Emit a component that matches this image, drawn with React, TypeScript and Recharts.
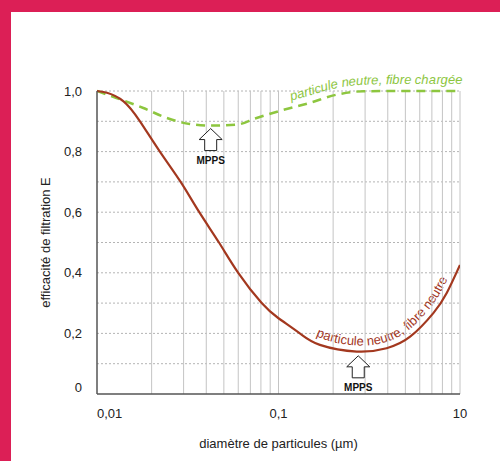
import React from 'react';
import * as R from 'recharts';
import {
  LineChart,
  Line,
  XAxis,
  YAxis,
  CartesianGrid,
  ReferenceDot,
  ReferenceLine,
  Customized,
  Label
} from 'recharts';

const FONT = '"Liberation Sans", Arial, Helvetica, sans-serif';
const PINK = '#DC1F56';
const BROWN = '#A3381F';
const GREEN = '#8DC63F';

const X_MIN = 0.01;
const X_MAX = 1;

// particule neutre, fibre neutre
const neutralDiameter = [0.01, 0.01135, 0.014, 0.01725, 0.0222, 0.0289, 0.0366, 0.047, 0.06, 0.0808, 0.1, 0.131, 0.169, 0.27, 0.394, 0.531, 0.713, 0.845, 1];
const neutralEfficiency = [1, 0.994, 0.966, 0.9, 0.8, 0.7, 0.6, 0.5, 0.4, 0.3, 0.25, 0.2, 0.162, 0.14, 0.151, 0.189, 0.267, 0.333, 0.426];

// particule neutre, fibre chargée
const chargedDiameter = [0.01, 0.0128, 0.018, 0.0242, 0.0325, 0.0423, 0.0589, 0.075, 0.1, 0.149, 0.209, 0.293, 0.5, 1];
const chargedEfficiency = [1, 0.977, 0.944, 0.911, 0.891, 0.886, 0.889, 0.91, 0.933, 0.961, 0.988, 0.999, 1, 1];

// MPPS arrows (diamètre, efficacité at arrow tip)
const mppsDiameter = [0.0423, 0.275];
const mppsEfficiency = [0.876, 0.126];

const xTicks = [0.01, 0.1, 1];
const xTickLabels = ['0,01', '0,1', '10'];
const yTicks = [0, 0.2, 0.4, 0.6, 0.8, 1];
const yTickLabels = ['0', '0,2', '0,4', '0,6', '0,8', '1,0'];
const xGrid = [0.02, 0.03, 0.04, 0.05, 0.06, 0.07, 0.08, 0.09, 0.1, 0.2, 0.3, 0.4, 0.5, 0.6, 0.7, 0.8, 0.9, 1];
const yGrid = [0.1, 0.2, 0.3, 0.4, 0.5, 0.6, 0.7, 0.8, 0.9, 1];

const neutralLabel = 'particule neutre, fibre neutre';
const chargedLabel = 'particule neutre, fibre chargée';
const xTitle = 'diamètre de particules (µm)';
const yTitle = 'efficacité de filtration E';

const neutralData = neutralDiameter.map((d, i) => ({ d, e: neutralEfficiency[i] }));
const chargedData = chargedDiameter.map((d, i) => ({ d, e: chargedEfficiency[i] }));

const MARGIN = { top: 91, right: 40, bottom: 17, left: 30 };
const Y_AXIS_W = 67;
const X_AXIS_H = 50;
const W = 500;
const H = 461;

const usePlot: any = (R as any).usePlotArea;

type Pt = [number, number];

function smoothPath(pts: Pt[]) {
  let s = `M${pts[0][0]},${pts[0][1]}`;
  for (let i = 1; i < pts.length - 1; i++) {
    const mx = (pts[i][0] + pts[i + 1][0]) / 2;
    const my = (pts[i][1] + pts[i + 1][1]) / 2;
    s += ` Q${pts[i][0]},${pts[i][1]} ${mx},${my}`;
  }
  const l = pts[pts.length - 1];
  return s + ` L${l[0]},${l[1]}`;
}

function CurveLabels() {
  const area = usePlot ? usePlot() : null;
  const x0 = area && area.width ? area.x : MARGIN.left + Y_AXIS_W;
  const y0 = area && area.height ? area.y : MARGIN.top;
  const w = area && area.width ? area.width : W - MARGIN.left - MARGIN.right - Y_AXIS_W;
  const h = area && area.height ? area.height : H - MARGIN.top - MARGIN.bottom - X_AXIS_H;
  const toPx = (d: number, e: number): Pt => [
    x0 + (w * Math.log10(d / X_MIN)) / Math.log10(X_MAX / X_MIN),
    y0 + h * (1 - e)
  ];
  const offsetPts = (ds: number[], es: number[], from: number, off: number, extend: number) => {
    const pts = ds.map((d, i) => toPx(d, es[i])).filter((_, i) => ds[i] >= from);
    const out: Pt[] = pts.map((p, i) => {
      const a = pts[Math.max(0, i - 1)];
      const b = pts[Math.min(pts.length - 1, i + 1)];
      const tx = b[0] - a[0];
      const ty = b[1] - a[1];
      const len = Math.hypot(tx, ty) || 1;
      return [p[0] + (off * ty) / len, p[1] - (off * tx) / len];
    });
    const p = out[out.length - 1];
    const q = out[out.length - 2];
    const len = Math.hypot(p[0] - q[0], p[1] - q[1]) || 1;
    out.push([p[0] + ((p[0] - q[0]) / len) * extend, p[1] + ((p[1] - q[1]) / len) * extend]);
    return out;
  };
  const brown = smoothPath(offsetPts(neutralDiameter, neutralEfficiency, 0.131, 5, 10));
  const green = smoothPath(offsetPts(chargedDiameter, chargedEfficiency, 0.1, 7, 20));
  return (
    <g>
      <defs>
        <path id="neutralPath" d={brown} />
        <path id="chargedPath" d={green} />
      </defs>
      <text fill={BROWN} fontSize={13} fontFamily={FONT}>
        <textPath href="#neutralPath" startOffset={15}>{neutralLabel}</textPath>
      </text>
      <text fill={GREEN} fontSize={13} fontStyle="italic" fontFamily={FONT}>
        <textPath href="#chargedPath" startOffset={15}>{chargedLabel}</textPath>
      </text>
    </g>
  );
}

const MppsArrow = (props: any) => {
  const { cx, cy } = props;
  const d = `M${cx},${cy} L${cx + 11.5},${cy + 11} L${cx + 6},${cy + 11} L${cx + 6},${cy + 22} L${cx - 6},${cy + 22} L${cx - 6},${cy + 11} L${cx - 11.5},${cy + 11} Z`;
  return (
    <g>
      <path d={d} fill="#fff" stroke="#222" strokeWidth={1} />
      <text x={cx} y={cy + 35} textAnchor="middle" fontSize={10} fontWeight="bold" fontFamily={FONT} fill="#111">
        MPPS
      </text>
    </g>
  );
};

const XTick = (props: any) => {
  const { x, y, payload, index } = props;
  const i = xTicks.indexOf(payload.value);
  return (
    <text x={x} y={y} textAnchor={index === 0 ? 'start' : 'middle'} dominantBaseline="central" fontSize={13} fontFamily={FONT} fill="#222">
      {xTickLabels[i]}
    </text>
  );
};

const YTick = (props: any) => {
  const { x, y, payload } = props;
  const i = yTicks.indexOf(payload.value);
  return (
    <text x={x} y={payload.value === 0 ? y - 7 : y} textAnchor="end" dominantBaseline="central" fontSize={13} fontFamily={FONT} fill="#222">
      {yTickLabels[i]}
    </text>
  );
};

export default function App() {
  return (
    <div style={{ position: 'absolute', left: 0, top: 0, width: W, height: H, background: PINK, fontFamily: FONT }}>
      <div style={{ position: 'absolute', left: 11, top: 12, right: 0, bottom: 0, background: '#fff' }} />
      <div style={{ position: 'absolute', left: 0, top: 0 }}>
        <LineChart width={W} height={H} margin={MARGIN}>
          <CartesianGrid vertical={false} horizontalValues={yGrid} stroke="#b4b4b4" strokeDasharray="2 2" strokeWidth={1} />
          {xGrid.map((v) => (
            <ReferenceLine key={v} x={v} stroke="#c4c4c4" strokeWidth={1} />
          ))}
          <XAxis
            dataKey="d"
            type="number"
            scale="log"
            domain={[X_MIN, X_MAX]}
            allowDataOverflow
            ticks={xTicks}
            height={X_AXIS_H}
            tickSize={0}
            tickMargin={19}
            tick={<XTick />}
            axisLine={{ stroke: '#555', strokeWidth: 1.5 }}
            tickLine={false}
          >
            <Label
              content={(p: any) => {
                const vb = p.viewBox;
                return (
                  <text x={vb.x + vb.width / 2} y={vb.y + 49} textAnchor="middle" dominantBaseline="central" fontSize={13} fontFamily={FONT} fill="#222">
                    {xTitle}
                  </text>
                );
              }}
            />
          </XAxis>
          <YAxis
            type="number"
            domain={[0, 1]}
            ticks={yTicks}
            width={Y_AXIS_W}
            tickSize={0}
            tickMargin={15}
            tick={<YTick />}
            axisLine={{ stroke: '#555', strokeWidth: 1.5 }}
            tickLine={false}
          >
            <Label
              content={(p: any) => {
                const vb = p.viewBox;
                const cx = vb.x + 15;
                const cy = vb.y + vb.height / 2;
                return (
                  <text x={cx} y={cy} transform={`rotate(-90 ${cx} ${cy})`} textAnchor="middle" dominantBaseline="central" fontSize={13} fontFamily={FONT} fill="#222">
                    {yTitle}
                  </text>
                );
              }}
            />
          </YAxis>
          <Line
            data={chargedData}
            dataKey="e"
            type="monotone"
            stroke={GREEN}
            strokeWidth={2.5}
            strokeDasharray="9 6"
            dot={false}
            activeDot={false}
            isAnimationActive={false}
          />
          <Line
            data={neutralData}
            dataKey="e"
            type="natural"
            stroke={BROWN}
            strokeWidth={2.2}
            dot={false}
            activeDot={false}
            isAnimationActive={false}
          />
          {mppsDiameter.map((d, i) => (
            <ReferenceDot key={i} x={d} y={mppsEfficiency[i]} r={0} shape={<MppsArrow />} />
          ))}
          <Customized component={CurveLabels} />
        </LineChart>
      </div>
    </div>
  );
}
